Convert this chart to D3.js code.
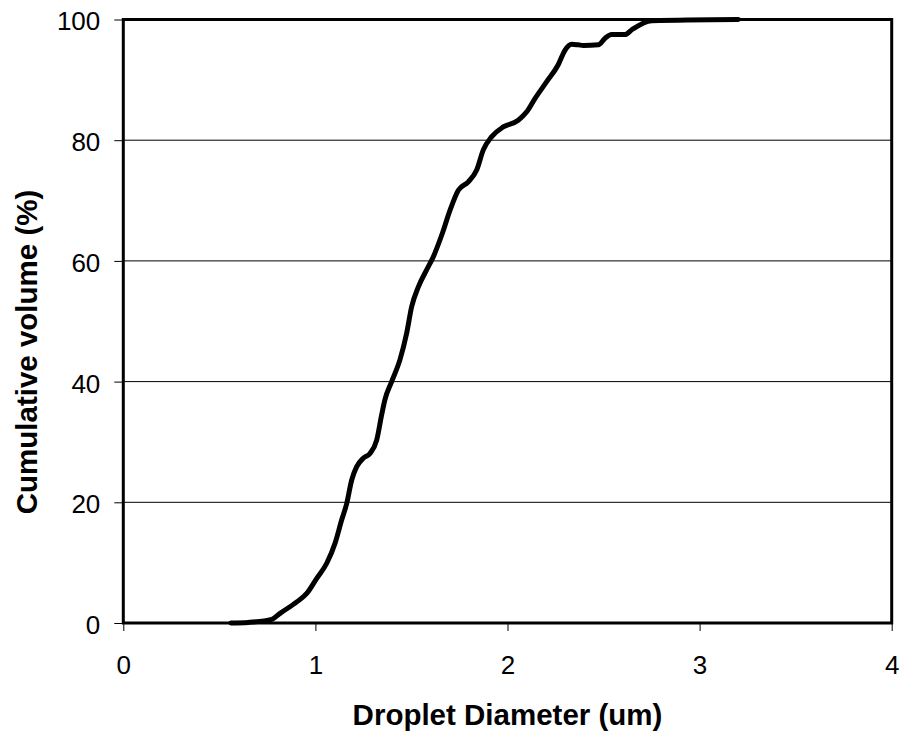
<!DOCTYPE html>
<html><head><meta charset="utf-8">
<script src="https://cdn.jsdelivr.net/npm/d3@7"></script>
<style>body{margin:0;background:#fff;} svg{display:block;}</style>
</head><body>
<script>
const diameter = [0.56,0.65,0.773,0.816,0.903,0.955,1.007,1.059,1.102,1.137,1.163,1.189,1.215,1.249,1.284,1.319,1.345,1.362,1.397,1.44,1.475,1.501,1.536,1.579,1.614,1.66,1.701,1.744,1.796,1.84,1.874,1.918,1.978,2.056,2.1,2.143,2.204,2.264,2.299,2.334,2.369,2.395,2.473,2.508,2.542,2.612,2.647,2.751,3.201];
const cumVolume = [0,0.1,0.6,1.6,3.5,4.9,7.4,9.9,13.2,17.1,19.8,23.7,25.9,27.3,28.1,30.3,34.5,37.0,40.0,43.6,48.0,52.4,55.7,58.5,60.7,64.5,68.4,71.7,73.1,75.1,78.4,80.6,82.2,83.3,84.7,86.9,89.7,92.5,94.9,95.9,95.8,95.7,95.8,96.9,97.5,97.5,98.3,99.8,100];
const xTicks = [0,1,2,3,4];
const yTicks = [0,20,40,60,80,100];
const xTitle = "Droplet Diameter (um)";
const yTitle = "Cumulative volume (%)";

const W = 900, H = 734;
const m = {left:123.3, right:891.7, top:19.5, bottom:623};
const svg = d3.select("body").append("svg").attr("width",W).attr("height",H);
const x = d3.scaleLinear().domain([0,4]).range([m.left,m.right]);
const y = d3.scaleLinear().domain([0,100]).range([m.bottom,m.top]);
const font = "'Liberation Sans', Arial, sans-serif";

// gridlines
svg.append("g").selectAll("line").data(yTicks.filter(t=>t>0&&t<100)).join("line")
  .attr("x1",m.left).attr("x2",m.right).attr("y1",d=>y(d)).attr("y2",d=>y(d))
  .attr("stroke","#000").attr("stroke-width",1);

// axes
const xAxis = svg.append("g").attr("transform",`translate(0,${m.bottom})`)
  .call(d3.axisBottom(x).tickValues(xTicks).tickSize(8).tickPadding(25).tickFormat(d3.format("d")));
const yAxis = svg.append("g").attr("transform",`translate(${m.left},0)`)
  .call(d3.axisLeft(y).tickValues(yTicks).tickSize(9).tickPadding(14).tickFormat(d3.format("d")));
[xAxis,yAxis].forEach(g=>{
  g.select(".domain").remove();
  g.selectAll("line").attr("stroke","#000").attr("stroke-width",1);
  g.selectAll("text").attr("font-family",font).attr("font-size",26).attr("fill","#000");
});
yAxis.selectAll("text").attr("dy","0.4em");

// frame
svg.append("rect").attr("x",m.left).attr("y",m.top).attr("width",m.right-m.left).attr("height",m.bottom-m.top)
  .attr("fill","none").attr("stroke","#000").attr("stroke-width",3);

// curve
const line = d3.line().x((d,i)=>x(diameter[i])).y(d=>y(d)).curve(d3.curveMonotoneX);
svg.append("path").datum(cumVolume).attr("d",line).attr("fill","none")
  .attr("stroke","#000").attr("stroke-width",5).attr("stroke-linejoin","round").attr("stroke-linecap","round");

// titles
svg.append("text").attr("x",(m.left+m.right)/2).attr("y",725).attr("text-anchor","middle")
  .attr("font-family",font).attr("font-weight","bold").attr("font-size",29.5).text(xTitle);
svg.append("text").attr("transform",`translate(37,352) rotate(-90)`).attr("text-anchor","middle")
  .attr("font-family",font).attr("font-weight","bold").attr("font-size",29.5).text(yTitle);
</script>
</body></html>
